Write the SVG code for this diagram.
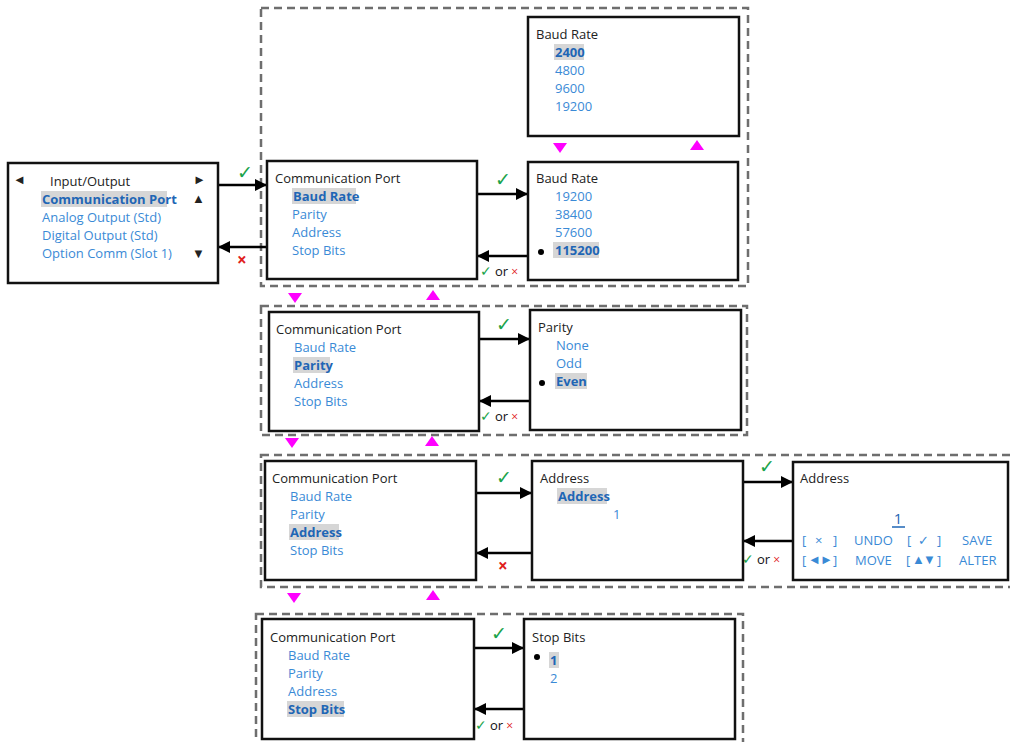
<svg xmlns="http://www.w3.org/2000/svg" width="1010" height="742" viewBox="0 0 1010 742">
<defs>
<style>
.box{fill:#fff;stroke:#111;stroke-width:2.5}
.grp{fill:none;stroke:#6e6e6e;stroke-width:2.5;stroke-dasharray:8 5}
text{font-family:"Open Sans","Noto Sans","Liberation Sans",sans-serif;font-size:13px}
.t{fill:#222}
.i{fill:#3a8ad6}
.s{fill:#1f66b5;font-weight:bold}
.hl{fill:#d6d6d6}
.ok{fill:#1aa34a;font-size:19px}
.no{fill:#e0201c;font-size:17px;font-weight:bold}
.ok2{fill:#1aa34a;font-size:14px}
.no2{fill:#e0201c;font-size:12px}
.or{fill:#111;font-size:13px}
.mag{fill:#ff00ff}
.ar{stroke:#000;stroke-width:2.5;fill:none;marker-end:url(#ah)}
</style>
<marker id="ah" markerWidth="12" markerHeight="12" refX="11" refY="6" orient="auto" markerUnits="userSpaceOnUse"><path d="M0,0 L12,6 L0,12 Z" fill="#000"/></marker>
</defs>
<rect width="1010" height="742" fill="#fff"/>

<g id="groups">
<rect class="grp" x="261" y="8" width="487" height="278"/>
<rect class="grp" x="261" y="306" width="486" height="129"/>
<rect class="grp" x="261" y="455" width="760" height="132"/>
<rect class="grp" x="256" y="614" width="487" height="140"/>
</g>

<g id="connectors">
<path class="ar" d="M218,185 H266"/>
<path class="ar" d="M266,247 H219"/>
<path class="ar" d="M477,194 H527"/>
<path class="ar" d="M528,256 H478"/>
<path class="ar" d="M479,339 H529"/>
<path class="ar" d="M530,401 H480"/>
<path class="ar" d="M476,493 H531"/>
<path class="ar" d="M532,553 H477"/>
<path class="ar" d="M743,482 H792"/>
<path class="ar" d="M793,541 H744"/>
<path class="ar" d="M474,648 H523"/>
<path class="ar" d="M524,709 H475"/>
<text class="ok" x="237" y="179">✓</text>
<text class="no" x="237" y="266">×</text>
<text class="ok" x="495" y="186">✓</text>
<text x="480" y="276"><tspan class="ok2">✓</tspan><tspan class="or" dx="3">or</tspan><tspan class="no2" dx="3">×</tspan></text>
<text class="ok" x="496" y="331">✓</text>
<text x="480" y="421"><tspan class="ok2">✓</tspan><tspan class="or" dx="3">or</tspan><tspan class="no2" dx="3">×</tspan></text>
<text class="ok" x="496" y="484">✓</text>
<text class="no" x="498" y="572">×</text>
<text class="ok" x="759" y="473">✓</text>
<text x="742" y="564"><tspan class="ok2">✓</tspan><tspan class="or" dx="3">or</tspan><tspan class="no2" dx="3">×</tspan></text>
<text class="ok" x="491" y="640">✓</text>
<text x="475" y="730"><tspan class="ok2">✓</tspan><tspan class="or" dx="3">or</tspan><tspan class="no2" dx="3">×</tspan></text>
<polygon class="mag" points="553,143 567,143 560,153"/>
<polygon class="mag" points="690,150 704,150 697,140"/>
<polygon class="mag" points="288,293 302,293 295,303"/>
<polygon class="mag" points="426,300 440,300 433,290"/>
<polygon class="mag" points="285,438 299,438 292,448"/>
<polygon class="mag" points="425,446 439,446 432,436"/>
<polygon class="mag" points="287,593 301,593 294,603"/>
<polygon class="mag" points="426,600 440,600 433,590"/>
</g>

<g id="io">
<rect class="box" x="8" y="163" width="210" height="120"/>
<text class="t" x="13" y="184" font-size="10">◄</text>
<text class="t" x="50" y="186">Input/Output</text>
<text class="t" x="193" y="184" font-size="10">►</text>
<rect class="hl" x="41" y="191" width="126" height="16"/>
<text class="s" x="42" y="204">Communication Port</text>
<text class="t" x="192" y="203" font-size="10">▲</text>
<text class="i" x="42" y="222">Analog Output (Std)</text>
<text class="i" x="42" y="240">Digital Output (Std)</text>
<text class="i" x="42" y="258">Option Comm (Slot 1)</text>
<text class="t" x="192" y="258" font-size="10">▼</text>
</g>

<g id="cp1">
<rect class="box" x="267" y="161" width="210" height="118"/>
<text class="t" x="275" y="183">Communication Port</text>
<rect class="hl" x="292" y="188" width="64" height="16"/>
<text class="s" x="293" y="201">Baud Rate</text>
<text class="i" x="292" y="219">Parity</text>
<text class="i" x="292" y="237">Address</text>
<text class="i" x="292" y="255">Stop Bits</text>
</g>

<g id="baud1">
<rect class="box" x="528" y="17" width="211" height="119"/>
<text class="t" x="536" y="39">Baud Rate</text>
<rect class="hl" x="554" y="44" width="30" height="16"/>
<text class="s" x="555" y="57">2400</text>
<text class="i" x="555" y="75">4800</text>
<text class="i" x="555" y="93">9600</text>
<text class="i" x="555" y="111">19200</text>
</g>

<g id="baud2">
<rect class="box" x="528" y="162" width="210" height="118"/>
<text class="t" x="536" y="183">Baud Rate</text>
<text class="i" x="555" y="201">19200</text>
<text class="i" x="555" y="219">38400</text>
<text class="i" x="555" y="237">57600</text>
<circle cx="541" cy="252" r="3" fill="#000"/>
<rect class="hl" x="553" y="242" width="46" height="16"/>
<text class="s" x="555" y="255">115200</text>
</g>

<g id="cp2">
<rect class="box" x="269" y="312" width="210" height="119"/>
<text class="t" x="276" y="334">Communication Port</text>
<text class="i" x="294" y="352">Baud Rate</text>
<rect class="hl" x="293" y="357" width="37" height="16"/>
<text class="s" x="294" y="370">Parity</text>
<text class="i" x="294" y="388">Address</text>
<text class="i" x="294" y="406">Stop Bits</text>
</g>

<g id="parity">
<rect class="box" x="530" y="310" width="211" height="120"/>
<text class="t" x="538" y="332">Parity</text>
<text class="i" x="556" y="350">None</text>
<text class="i" x="556" y="368">Odd</text>
<circle cx="542" cy="383" r="3" fill="#000"/>
<rect class="hl" x="555" y="373" width="32" height="16"/>
<text class="s" x="556" y="386">Even</text>
</g>

<g id="cp3">
<rect class="box" x="265" y="461" width="211" height="119"/>
<text class="t" x="272" y="483">Communication Port</text>
<text class="i" x="290" y="501">Baud Rate</text>
<text class="i" x="290" y="519">Parity</text>
<rect class="hl" x="289" y="524" width="50" height="16"/>
<text class="s" x="290" y="537">Address</text>
<text class="i" x="290" y="555">Stop Bits</text>
</g>

<g id="addr1">
<rect class="box" x="532" y="461" width="211" height="119"/>
<text class="t" x="540" y="483">Address</text>
<rect class="hl" x="557" y="488" width="50" height="16"/>
<text class="s" x="558" y="501">Address</text>
<text class="i" x="613" y="519">1</text>
</g>

<g id="addr2">
<rect class="box" x="793" y="462" width="215" height="118"/>
<text class="t" x="800" y="483">Address</text>
<text x="898" y="524" text-anchor="middle" style="fill:#1f66b5;font-size:15px">1</text>
<line x1="892" y1="527" x2="905" y2="527" stroke="#1f66b5" stroke-width="1.5"/>
<text class="i" x="802" y="545">[</text><text class="i" x="815" y="545">×</text><text class="i" x="833" y="545">]</text>
<text class="i" x="854" y="545">UNDO</text>
<text class="i" x="907" y="545">[</text><text class="i" x="918" y="545">✓</text><text class="i" x="937" y="545">]</text>
<text class="i" x="962" y="545">SAVE</text>
<text class="i" x="802" y="565">[</text><text class="i" x="808" y="564" font-size="10">◄</text><text class="i" x="820" y="564" font-size="10">►</text><text class="i" x="833" y="565">]</text>
<text class="i" x="855" y="565">MOVE</text>
<text class="i" x="906" y="565">[</text><text class="i" x="912" y="564" font-size="10">▲</text><text class="i" x="923" y="564" font-size="10">▼</text><text class="i" x="937" y="565">]</text>
<text class="i" x="959" y="565">ALTER</text>
</g>

<g id="cp4">
<rect class="box" x="262" y="619" width="212" height="120"/>
<text class="t" x="270" y="642">Communication Port</text>
<text class="i" x="288" y="660">Baud Rate</text>
<text class="i" x="288" y="678">Parity</text>
<text class="i" x="288" y="696">Address</text>
<rect class="hl" x="287" y="701" width="57" height="16"/>
<text class="s" x="288" y="714">Stop Bits</text>
</g>

<g id="stop">
<rect class="box" x="524" y="619" width="211" height="120"/>
<text class="t" x="532" y="642">Stop Bits</text>
<circle cx="537" cy="657" r="3" fill="#000"/>
<rect class="hl" x="549" y="652" width="10" height="16"/>
<text class="s" x="550" y="665">1</text>
<text class="i" x="550" y="683">2</text>
</g>
</svg>
